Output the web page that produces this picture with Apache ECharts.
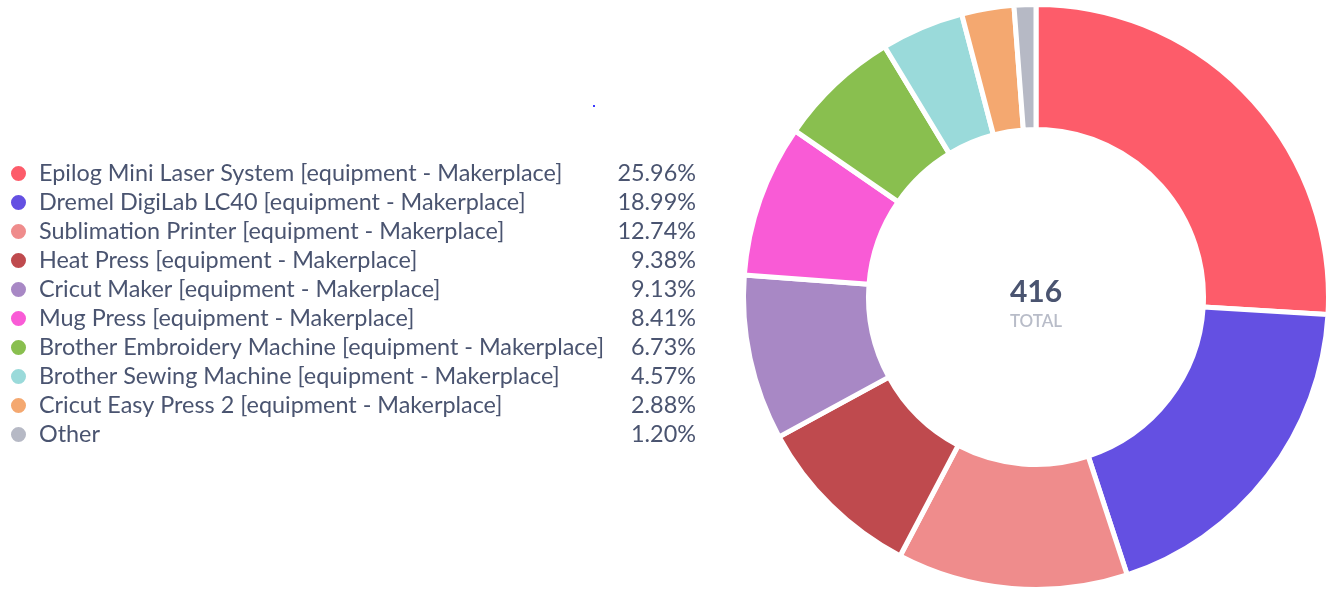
<!DOCTYPE html>
<html>
<head>
<meta charset="utf-8">
<script src="https://cdn.jsdelivr.net/npm/echarts@6/dist/echarts.min.js"></script>
<style>
html,body{margin:0;padding:0;background:#fff;}
#chart{width:1327px;height:592px;}
</style>
</head>
<body>
<div id="chart"></div>
<script>
const categories = [
  "Epilog Mini Laser System [equipment - Makerplace]",
  "Dremel DigiLab LC40 [equipment - Makerplace]",
  "Sublimation Printer [equipment - Makerplace]",
  "Heat Press [equipment - Makerplace]",
  "Cricut Maker [equipment - Makerplace]",
  "Mug Press [equipment - Makerplace]",
  "Brother Embroidery Machine [equipment - Makerplace]",
  "Brother Sewing Machine [equipment - Makerplace]",
  "Cricut Easy Press 2 [equipment - Makerplace]",
  "Other"
];
const counts = [108, 79, 53, 39, 38, 35, 28, 19, 12, 5];
const percentLabels = ["25.96%", "18.99%", "12.74%", "9.38%", "9.13%", "8.41%", "6.73%", "4.57%", "2.88%", "1.20%"];
const colors = ["#fd5c6a", "#6450e2", "#ef8c8c", "#bf4a4e", "#a888c5", "#f95bd6", "#89bf4f", "#9adada", "#f4a870", "#b6b9c5"];
const totalLabel = "416";
const totalCaption = "TOTAL";

const textColor = "#4a5470";
const chart = echarts.init(document.getElementById('chart'));
const pctMap = {};
categories.forEach((c, i) => { pctMap[c] = percentLabels[i]; });

const fs = 23.4;
const lh = 23;
chart.setOption({
  animation: false,
  color: colors,
  legend: {
    orient: 'vertical',
    left: 4,
    top: 157,
    icon: 'circle',
    itemWidth: 31,
    itemHeight: 17,
    itemGap: 6,
    selectedMode: false,
    data: categories,
    formatter: function (name) {
      return '{n|' + name + '}{p|' + pctMap[name] + '}';
    },
    textStyle: {
      color: textColor,
      fontFamily: 'Lato',
      fontSize: fs,
      lineHeight: lh,
      rich: {
        n: { width: 579, fontSize: fs, lineHeight: lh, color: textColor, fontFamily: 'Lato' },
        p: { width: 78, align: 'right', fontSize: fs, lineHeight: lh, color: textColor, fontFamily: 'Lato' }
      }
    }
  },
  graphic: [
    { type: 'text', x: 1036, y: 292, style: { text: totalLabel, textAlign: 'center', textVerticalAlign: 'middle', fill: textColor, font: 'bold 30px Lato' } },
    { type: 'text', x: 1036, y: 322, style: { text: totalCaption, textAlign: 'center', textVerticalAlign: 'middle', fill: '#b8bcc8', font: '600 17px Lato' } },
    { type: 'rect', shape: { x: 593, y: 105, width: 2, height: 2 }, style: { fill: '#3a3aff' } }
  ],
  series: [{
    type: 'pie',
    center: [1036, 297],
    radius: [167.5, 292.5],
    startAngle: 90,
    clockwise: true,
    avoidLabelOverlap: false,
    label: { show: false },
    labelLine: { show: false },
    emphasis: { disabled: true },
    itemStyle: { borderColor: '#ffffff', borderWidth: 5 },
    data: categories.map((c, i) => ({ name: c, value: counts[i] }))
  }]
});
</script>
</body>
</html>
